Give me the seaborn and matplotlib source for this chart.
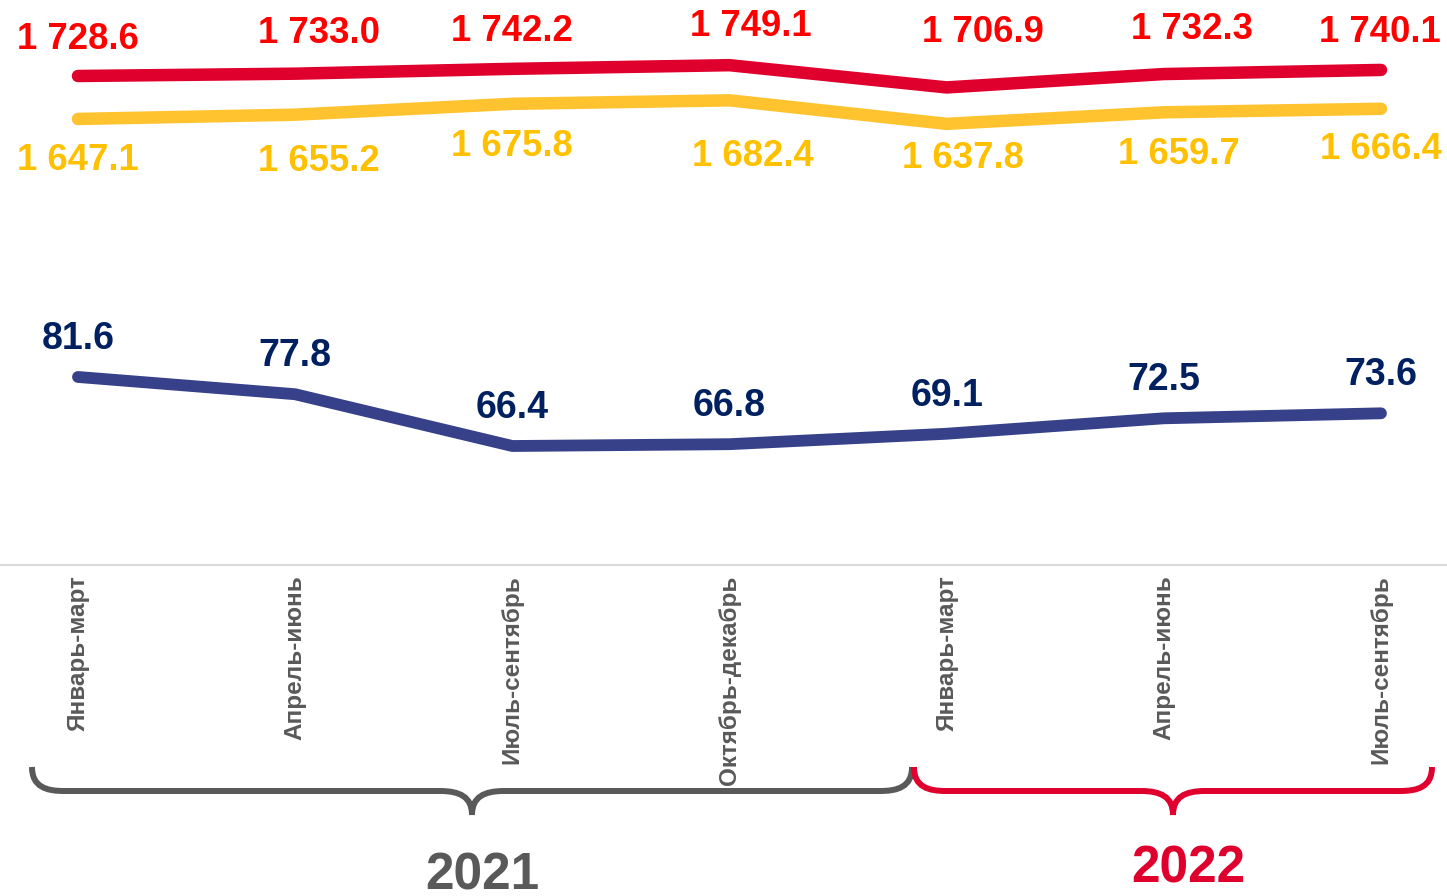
import numpy as np
import pandas as pd
import seaborn as sns
import matplotlib.pyplot as plt
from matplotlib.path import Path
from matplotlib.patches import PathPatch

# данные
quarters = ["Январь-март", "Апрель-июнь", "Июль-сентябрь", "Октябрь-декабрь",
            "Январь-март", "Апрель-июнь", "Июль-сентябрь"]
red_vals = [1728.6, 1733.0, 1742.2, 1749.1, 1706.9, 1732.3, 1740.1]
yellow_vals = [1647.1, 1655.2, 1675.8, 1682.4, 1637.8, 1659.7, 1666.4]
navy_vals = [81.6, 77.8, 66.4, 66.8, 69.1, 72.5, 73.6]
years = ["2021", "2022"]

RED_LINE, RED_TXT = "#E0002E", "#FF0000"
YEL_LINE, YEL_TXT = "#FFC32F", "#FFC000"
NAVY_LINE, NAVY_TXT = "#36418A", "#002060"
GRAY = "#595959"

sns.set_theme(style="white")
plt.rcParams['font.family'] = ['Liberation Sans', 'DejaVu Sans']

df = pd.DataFrame({"x": np.arange(len(quarters)), "red": red_vals,
                   "yellow": yellow_vals, "navy": navy_vals})

fig = plt.figure(figsize=(14.47, 8.96), dpi=100)
ax = fig.add_axes([0, 1 - 565 / 896, 1, 565 / 896])
ax2 = ax.twinx()

sns.lineplot(data=df, x="x", y="red", ax=ax, color=RED_LINE, lw=9,
             solid_capstyle="round")
sns.lineplot(data=df, x="x", y="yellow", ax=ax, color=YEL_LINE, lw=9,
             solid_capstyle="round")
sns.lineplot(data=df, x="x", y="navy", ax=ax2, color=NAVY_LINE, lw=8.5,
             solid_capstyle="round")

ax.set_xlim(-0.359, 6.304)
ax.set_ylim(800.7, 1872.8)
ax2.set_ylim(40.2, 164.6)

# подписи значений (смещения в пикселях)
px = 0.72
red_dx = [0, 24, 0, 21, 36, 28, -1]
red_dy = [36, 40, 37, 39, 55, 45, 37]
yel_dx = [0, 24, 0, 23, 16, 15, 0]
yel_dy = [-42, -47, -43, -56, -35, -42, -41]

fmt = lambda v: f"{v:,.1f}".replace(",", " ")
for i in range(len(quarters)):
    ax.annotate(fmt(red_vals[i]), (i, red_vals[i]),
                xytext=(red_dx[i] * px, red_dy[i] * px), textcoords="offset points",
                ha="center", va="center", fontsize=26.3, fontweight="bold",
                color=RED_TXT, annotation_clip=False)
    ax.annotate(fmt(yellow_vals[i]), (i, yellow_vals[i]),
                xytext=(yel_dx[i] * px, yel_dy[i] * px), textcoords="offset points",
                ha="center", va="center", fontsize=26.3, fontweight="bold",
                color=YEL_TXT, annotation_clip=False)
    ax2.annotate(fmt(navy_vals[i]), (i, navy_vals[i]),
                 xytext=(0, 38 * px), textcoords="offset points",
                 ha="center", va="center", fontsize=27, fontweight="bold",
                 color=NAVY_TXT)

ax.set_xticks(df["x"])
ax.set_xticklabels(quarters, rotation=90, va="top", ha="center",
                   fontsize=17.5, fontweight="bold", color=GRAY)
ax.tick_params(axis="x", length=0, pad=7.5)
ax.set_yticks([])
ax2.set_yticks([])
ax.set_xlabel("")
ax.set_ylabel("")
ax2.set_ylabel("")
for a in (ax, ax2):
    for s in ["top", "left", "right"]:
        a.spines[s].set_visible(False)
ax2.spines["bottom"].set_visible(False)
ax.spines["bottom"].set_color("#D9D9D9")
ax.spines["bottom"].set_linewidth(1.5)

# фигурные скобки под осью
ov = fig.add_axes([0, 0, 1, 1], facecolor="none")
ov.set_xlim(0, 1447)
ov.set_ylim(896, 0)
ov.axis("off")


def brace(x0, x1, ytop, ybar, ytip, color):
    xm = (x0 + x1) / 2
    r = 32
    verts = [(x0, ytop), (x0, ybar - 4), (x0 + r * 0.45, ybar), (x0 + r, ybar),
             (xm - r, ybar),
             (xm - 12, ybar), (xm, ybar + 6), (xm, ytip),
             (xm, ybar + 6), (xm + 12, ybar), (xm + r, ybar),
             (x1 - r, ybar),
             (x1 - r * 0.45, ybar), (x1, ybar - 4), (x1, ytop)]
    codes = [Path.MOVETO, Path.CURVE4, Path.CURVE4, Path.CURVE4,
             Path.LINETO,
             Path.CURVE4, Path.CURVE4, Path.CURVE4,
             Path.CURVE4, Path.CURVE4, Path.CURVE4,
             Path.LINETO,
             Path.CURVE4, Path.CURVE4, Path.CURVE4]
    ov.add_patch(PathPatch(Path(verts, codes), fill=False, ec=color, lw=4.3,
                           capstyle="butt"))


brace(32, 912, 767, 791, 815, GRAY)
brace(914, 1432, 767, 791, 815, RED_LINE)
ov.text(482, 876, years[0], ha="center", va="center", fontsize=37,
        fontweight="bold", color=GRAY)
ov.text(1188, 869, years[1], ha="center", va="center", fontsize=37,
        fontweight="bold", color=RED_LINE)

fig.savefig("out.png", dpi=100)
